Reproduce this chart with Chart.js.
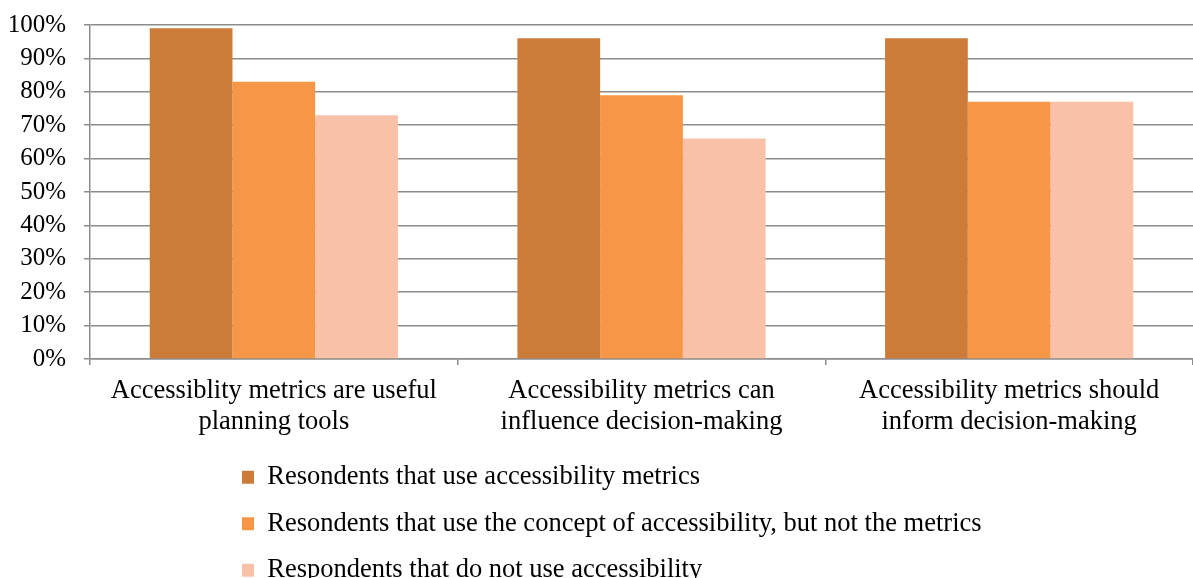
<!DOCTYPE html>
<html>
<head>
<meta charset="utf-8">
<script src="https://cdn.jsdelivr.net/npm/chart.js@4/dist/chart.umd.min.js"></script>
<style>
  html, body { margin: 0; padding: 0; background: #ffffff; }
  #wrap { width: 1193px; height: 578px; position: relative; }
</style>
</head>
<body>
<div id="wrap"><canvas id="c"></canvas></div>
<script>
const categories = [
  ["Accessiblity metrics are useful", "planning tools"],
  ["Accessibility metrics can", "influence decision-making"],
  ["Accessibility metrics should", "inform decision-making"]
];
const seriesNames = [
  "Resondents that use accessibility metrics",
  "Resondents that use the concept of accessibility, but not the metrics",
  "Respondents that do not use accessibility"
];
const useMetrics = [99, 96, 96];
const useConcept = [83, 79, 77];
const doNotUse = [73, 66, 77];
const yTicks = [0, 10, 20, 30, 40, 50, 60, 70, 80, 90, 100];
const colors = ["#CD7B38", "#F79646", "#F9C2A8"];

const FONT = "'Liberation Serif', 'Times New Roman', serif";
const GRID = "#8c8c8c";

const legendPlace = {
  id: 'legendPlace',
  afterLayout(chart) {
    const lg = chart.legend;
    if (!lg) return;
    lg.left = 222;
    lg.top = 444;
    lg.bottom = 578;
  }
};

new Chart(document.getElementById('c'), {
  type: 'bar',
  data: {
    labels: categories,
    datasets: [
      { label: seriesNames[0], data: useMetrics, backgroundColor: colors[0] },
      { label: seriesNames[1], data: useConcept, backgroundColor: colors[1] },
      { label: seriesNames[2], data: doNotUse, backgroundColor: colors[2] }
    ]
  },
  options: {
    responsive: true,
    maintainAspectRatio: false,
    animation: false,
    datasets: { bar: { categoryPercentage: 0.675, barPercentage: 1.0 } },
    layout: { padding: { top: 25, right: 0, left: 0, bottom: 0 } },
    plugins: {
      tooltip: { enabled: false },
      legend: {
        position: 'bottom',
        align: 'start',
        maxHeight: 120,
        labels: {
          font: { family: FONT, size: 26.5 },
          color: '#000',
          boxWidth: 12,
          boxHeight: 13,
          padding: 20
        }
      }
    },
    scales: {
      x: {
        grid: { display: true, drawOnChartArea: false, drawTicks: true, tickLength: 6, color: GRID, lineWidth: 1.5 },
        border: { display: true, color: GRID, width: 1.5 },
        ticks: {
          color: '#000',
          font: { family: FONT, size: 26.5, lineHeight: 1.15 },
          padding: 11,
          maxRotation: 0,
          autoSkip: false
        },
        afterFit(scale) { scale.height = 578 - 359 - 120; scale.paddingLeft = 0; scale.paddingRight = 0; }
      },
      y: {
        min: 0,
        max: 100,
        afterBuildTicks(scale) { scale.ticks = yTicks.map(v => ({ value: v })); },
        grid: { color: GRID, lineWidth: 1.5, tickLength: 6, drawTicks: true },
        border: { display: true, color: GRID, width: 1.5 },
        ticks: {
          color: '#000',
          font: { family: FONT, size: 25 },
          padding: 18,
          autoSkip: false,
          callback: v => v + '%'
        },
        afterFit(scale) { scale.width = 90; scale.paddingTop = 0; scale.paddingBottom = 0; }
      }
    }
  },
  plugins: [legendPlace]
});
</script>
</body>
</html>
